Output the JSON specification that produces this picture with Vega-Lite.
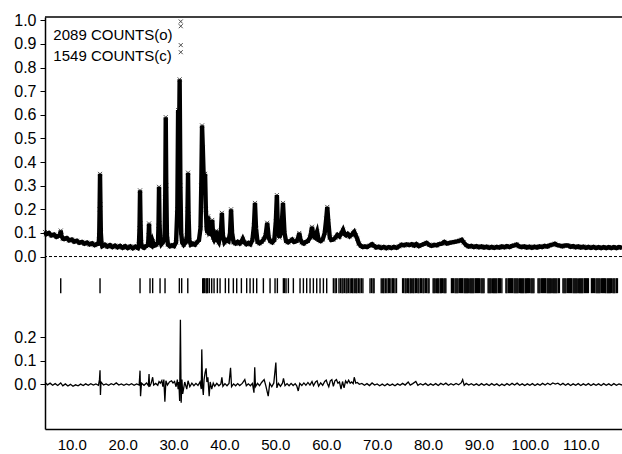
{
"$schema":"https://vega.github.io/schema/vega-lite/v6.json",
"width":577,"height":412,
"autosize":{"type":"none"},
"padding":{"left":45,"top":17,"right":0,"bottom":25},
"background":"white",
"config":{"view":{"stroke":null},"font":"Liberation Sans","axis":{"labelFont":"Liberation Sans","labelFontSize":16,"labelColor":"black","domainColor":"black","tickColor":"black","grid":false,"labelOverlap":false,"labelFlush":false}},
"datasets":{
"obs":[
{"x":4.75,"o":0.104,"c":0.100},{"x":5.0,"o":0.094,"c":0.098},{"x":5.5,"o":0.100,"c":0.095},{"x":6.0,"o":0.089,"c":0.092},{"x":6.5,"o":0.093,"c":0.089},{"x":7.0,"o":0.083,"c":0.086},{"x":7.5,"o":0.088,"c":0.084},{"x":7.75,"o":0.095,"c":0.090},{"x":7.84,"o":0.110,"c":0.104},{"x":7.95,"o":0.090,"c":0.088},{"x":8.25,"o":0.076,"c":0.079},{"x":8.5,"o":0.074,"c":0.077},{"x":9.0,"o":0.078,"c":0.074},{"x":9.5,"o":0.068,"c":0.071},{"x":10.0,"o":0.072,"c":0.068},{"x":10.5,"o":0.063,"c":0.066},{"x":11.0,"o":0.067,"c":0.064},{"x":11.5,"o":0.058,"c":0.062},{"x":12.0,"o":0.062,"c":0.060},{"x":12.5,"o":0.054,"c":0.058},{"x":13.0,"o":0.059,"c":0.056},{"x":13.5,"o":0.051,"c":0.054},{"x":14.0,"o":0.056,"c":0.053},{"x":14.5,"o":0.048,"c":0.051},{"x":15.0,"o":0.053,"c":0.050},{"x":15.3,"o":0.055,"c":0.052},{"x":15.4,"o":0.090,"c":0.080},{"x":15.48,"o":0.200,"c":0.170},{"x":15.56,"o":0.350,"c":0.290},{"x":15.64,"o":0.220,"c":0.200},{"x":15.72,"o":0.100,"c":0.090},{"x":15.85,"o":0.055,"c":0.052},{"x":16.0,"o":0.044,"c":0.048},{"x":16.5,"o":0.050,"c":0.047},{"x":17.0,"o":0.042,"c":0.046},{"x":17.5,"o":0.048,"c":0.045},{"x":18.0,"o":0.040,"c":0.044},{"x":18.5,"o":0.046,"c":0.043},{"x":19.0,"o":0.039,"c":0.042},{"x":19.5,"o":0.045,"c":0.041},{"x":20.0,"o":0.037,"c":0.041},{"x":20.5,"o":0.044,"c":0.040},{"x":21.0,"o":0.036,"c":0.040},{"x":21.5,"o":0.043,"c":0.039},{"x":22.0,"o":0.035,"c":0.039},{"x":22.5,"o":0.042,"c":0.039},{"x":23.0,"o":0.036,"c":0.040},{"x":23.2,"o":0.050,"c":0.048},{"x":23.32,"o":0.120,"c":0.100},{"x":23.42,"o":0.280,"c":0.220},{"x":23.52,"o":0.140,"c":0.150},{"x":23.62,"o":0.060,"c":0.055},{"x":23.8,"o":0.042,"c":0.042},{"x":24.2,"o":0.037,"c":0.040},{"x":24.6,"o":0.044,"c":0.041},{"x":25.0,"o":0.050,"c":0.048},{"x":25.1,"o":0.090,"c":0.080},{"x":25.19,"o":0.140,"c":0.100},{"x":25.28,"o":0.080,"c":0.075},{"x":25.4,"o":0.050,"c":0.050},{"x":25.7,"o":0.045,"c":0.044},{"x":25.9,"o":0.065,"c":0.055},{"x":26.2,"o":0.046,"c":0.046},{"x":26.6,"o":0.050,"c":0.048},{"x":26.95,"o":0.060,"c":0.060},{"x":27.05,"o":0.130,"c":0.120},{"x":27.15,"o":0.295,"c":0.280},{"x":27.25,"o":0.140,"c":0.135},{"x":27.38,"o":0.070,"c":0.065},{"x":27.6,"o":0.052,"c":0.052},{"x":27.9,"o":0.060,"c":0.056},{"x":28.25,"o":0.080,"c":0.075},{"x":28.37,"o":0.250,"c":0.240},{"x":28.47,"o":0.590,"c":0.570},{"x":28.57,"o":0.300,"c":0.320},{"x":28.7,"o":0.090,"c":0.085},{"x":28.9,"o":0.050,"c":0.052},{"x":29.3,"o":0.043,"c":0.046},{"x":29.7,"o":0.048,"c":0.047},{"x":30.1,"o":0.044,"c":0.048},{"x":30.5,"o":0.060,"c":0.058},{"x":30.75,"o":0.200,"c":0.190},{"x":30.9,"o":0.620,"c":0.600},{"x":31.05,"o":0.400,"c":0.410},{"x":31.2,"o":0.750,"c":0.700},{"x":31.35,"o":0.300,"c":0.290},{"x":31.5,"o":0.100,"c":0.110},{"x":31.7,"o":0.060,"c":0.065},{"x":32.0,"o":0.050,"c":0.055},{"x":32.4,"o":0.060,"c":0.060},{"x":32.65,"o":0.090,"c":0.085},{"x":32.75,"o":0.200,"c":0.190},{"x":32.85,"o":0.355,"c":0.330},{"x":32.95,"o":0.180,"c":0.175},{"x":33.1,"o":0.070,"c":0.070},{"x":33.4,"o":0.050,"c":0.054},{"x":33.8,"o":0.055,"c":0.055},{"x":34.2,"o":0.050,"c":0.056},{"x":34.6,"o":0.060,"c":0.060},{"x":35.0,"o":0.070,"c":0.068},{"x":35.3,"o":0.120,"c":0.115},{"x":35.45,"o":0.300,"c":0.300},{"x":35.6,"o":0.555,"c":0.500},{"x":35.75,"o":0.460,"c":0.440},{"x":35.9,"o":0.350,"c":0.350},{"x":36.05,"o":0.300,"c":0.290},{"x":36.2,"o":0.350,"c":0.300},{"x":36.35,"o":0.200,"c":0.190},{"x":36.5,"o":0.120,"c":0.120},{"x":36.65,"o":0.100,"c":0.100},{"x":36.8,"o":0.170,"c":0.150},{"x":37.0,"o":0.090,"c":0.095},{"x":37.2,"o":0.100,"c":0.100},{"x":37.45,"o":0.130,"c":0.120},{"x":37.6,"o":0.155,"c":0.140},{"x":37.8,"o":0.080,"c":0.085},{"x":38.0,"o":0.070,"c":0.072},{"x":38.25,"o":0.080,"c":0.078},{"x":38.4,"o":0.110,"c":0.100},{"x":38.6,"o":0.070,"c":0.070},{"x":38.9,"o":0.060,"c":0.064},{"x":39.3,"o":0.100,"c":0.095},{"x":39.5,"o":0.185,"c":0.170},{"x":39.7,"o":0.090,"c":0.090},{"x":40.0,"o":0.060,"c":0.064},{"x":40.4,"o":0.070,"c":0.068},{"x":40.8,"o":0.065,"c":0.066},{"x":41.1,"o":0.100,"c":0.095},{"x":41.3,"o":0.200,"c":0.180},{"x":41.5,"o":0.100,"c":0.100},{"x":41.8,"o":0.060,"c":0.064},{"x":42.2,"o":0.055,"c":0.060},{"x":42.6,"o":0.062,"c":0.060},{"x":43.0,"o":0.055,"c":0.060},{"x":43.3,"o":0.062,"c":0.062},{"x":43.6,"o":0.075,"c":0.072},{"x":43.9,"o":0.060,"c":0.064},{"x":44.3,"o":0.052,"c":0.058},{"x":44.7,"o":0.058,"c":0.058},{"x":45.1,"o":0.052,"c":0.058},{"x":45.5,"o":0.070,"c":0.066},{"x":45.8,"o":0.130,"c":0.120},{"x":46.0,"o":0.227,"c":0.200},{"x":46.2,"o":0.120,"c":0.115},{"x":46.5,"o":0.062,"c":0.064},{"x":46.9,"o":0.056,"c":0.060},{"x":47.3,"o":0.062,"c":0.062},{"x":47.7,"o":0.072,"c":0.070},{"x":48.1,"o":0.090,"c":0.088},{"x":48.4,"o":0.143,"c":0.130},{"x":48.7,"o":0.080,"c":0.082},{"x":49.0,"o":0.065,"c":0.066},{"x":49.4,"o":0.060,"c":0.062},{"x":49.8,"o":0.070,"c":0.070},{"x":50.1,"o":0.150,"c":0.140},{"x":50.3,"o":0.260,"c":0.220},{"x":50.5,"o":0.120,"c":0.120},{"x":50.8,"o":0.080,"c":0.082},{"x":51.2,"o":0.110,"c":0.105},{"x":51.5,"o":0.227,"c":0.200},{"x":51.8,"o":0.100,"c":0.100},{"x":52.1,"o":0.065,"c":0.068},{"x":52.5,"o":0.060,"c":0.064},{"x":52.9,"o":0.066,"c":0.066},{"x":53.3,"o":0.072,"c":0.070},{"x":53.7,"o":0.062,"c":0.064},{"x":54.2,"o":0.066,"c":0.066},{"x":54.5,"o":0.080,"c":0.078},{"x":54.7,"o":0.100,"c":0.090},{"x":54.9,"o":0.075,"c":0.075},{"x":55.2,"o":0.060,"c":0.062},{"x":55.6,"o":0.055,"c":0.060},{"x":56.0,"o":0.062,"c":0.062},{"x":56.4,"o":0.066,"c":0.066},{"x":56.8,"o":0.080,"c":0.078},{"x":57.0,"o":0.100,"c":0.095},{"x":57.2,"o":0.126,"c":0.110},{"x":57.5,"o":0.085,"c":0.085},{"x":57.8,"o":0.080,"c":0.080},{"x":58.2,"o":0.105,"c":0.095},{"x":58.5,"o":0.070,"c":0.072},{"x":58.9,"o":0.065,"c":0.068},{"x":59.3,"o":0.072,"c":0.072},{"x":59.7,"o":0.100,"c":0.095},{"x":60.0,"o":0.160,"c":0.150},{"x":60.2,"o":0.210,"c":0.190},{"x":60.4,"o":0.150,"c":0.140},{"x":60.7,"o":0.080,"c":0.082},{"x":61.0,"o":0.070,"c":0.074},{"x":61.4,"o":0.072,"c":0.074},{"x":61.8,"o":0.080,"c":0.080},{"x":62.2,"o":0.092,"c":0.088},{"x":62.6,"o":0.085,"c":0.086},{"x":63.0,"o":0.100,"c":0.096},{"x":63.3,"o":0.113,"c":0.105},{"x":63.6,"o":0.095,"c":0.096},{"x":63.9,"o":0.090,"c":0.092},{"x":64.2,"o":0.096,"c":0.094},{"x":64.6,"o":0.085,"c":0.088},{"x":65.0,"o":0.092,"c":0.092},{"x":65.3,"o":0.100,"c":0.098},{"x":65.5,"o":0.105,"c":0.100},{"x":65.8,"o":0.090,"c":0.090},{"x":66.1,"o":0.075,"c":0.076},{"x":66.4,"o":0.055,"c":0.058},{"x":66.8,"o":0.045,"c":0.048},{"x":67.2,"o":0.040,"c":0.043},{"x":67.6,"o":0.043,"c":0.043},{"x":68.0,"o":0.040,"c":0.044},{"x":68.5,"o":0.046,"c":0.046},{"x":69.0,"o":0.052,"c":0.050},{"x":69.4,"o":0.045,"c":0.046},{"x":69.8,"o":0.038,"c":0.041},{"x":70.3,"o":0.042,"c":0.040},{"x":70.8,"o":0.036,"c":0.039},{"x":71.3,"o":0.041,"c":0.039},{"x":71.8,"o":0.035,"c":0.038},{"x":72.3,"o":0.040,"c":0.038},{"x":72.8,"o":0.036,"c":0.038},{"x":73.3,"o":0.041,"c":0.039},{"x":73.8,"o":0.037,"c":0.040},{"x":74.3,"o":0.043,"c":0.042},{"x":74.8,"o":0.050,"c":0.046},{"x":75.3,"o":0.047,"c":0.048},{"x":75.8,"o":0.052,"c":0.049},{"x":76.3,"o":0.048,"c":0.049},{"x":76.8,"o":0.052,"c":0.050},{"x":77.3,"o":0.046,"c":0.049},{"x":77.7,"o":0.053,"c":0.050},{"x":78.2,"o":0.044,"c":0.048},{"x":78.7,"o":0.049,"c":0.049},{"x":79.2,"o":0.053,"c":0.052},{"x":79.7,"o":0.058,"c":0.055},{"x":80.2,"o":0.050,"c":0.051},{"x":80.7,"o":0.045,"c":0.048},{"x":81.2,"o":0.050,"c":0.049},{"x":81.7,"o":0.047,"c":0.049},{"x":82.2,"o":0.053,"c":0.052},{"x":82.7,"o":0.055,"c":0.055},{"x":83.2,"o":0.062,"c":0.059},{"x":83.7,"o":0.055,"c":0.057},{"x":84.2,"o":0.058,"c":0.058},{"x":84.7,"o":0.060,"c":0.060},{"x":85.2,"o":0.062,"c":0.062},{"x":85.7,"o":0.064,"c":0.064},{"x":86.2,"o":0.067,"c":0.066},{"x":86.6,"o":0.071,"c":0.067},{"x":87.0,"o":0.060,"c":0.060},{"x":87.5,"o":0.048,"c":0.050},{"x":88.0,"o":0.042,"c":0.045},{"x":88.5,"o":0.045,"c":0.044},{"x":89.0,"o":0.040,"c":0.042},{"x":89.5,"o":0.044,"c":0.042},{"x":90.0,"o":0.039,"c":0.041},{"x":90.5,"o":0.043,"c":0.041},{"x":91.0,"o":0.038,"c":0.040},{"x":91.5,"o":0.042,"c":0.040},{"x":92.0,"o":0.037,"c":0.040},{"x":92.5,"o":0.041,"c":0.040},{"x":93.0,"o":0.037,"c":0.039},{"x":93.5,"o":0.041,"c":0.039},{"x":94.0,"o":0.038,"c":0.040},{"x":94.5,"o":0.043,"c":0.041},{"x":95.0,"o":0.039,"c":0.041},{"x":95.5,"o":0.044,"c":0.042},{"x":96.0,"o":0.040,"c":0.043},{"x":96.5,"o":0.045,"c":0.044},{"x":97.0,"o":0.047,"c":0.046},{"x":97.4,"o":0.051,"c":0.048},{"x":97.9,"o":0.043,"c":0.045},{"x":98.4,"o":0.040,"c":0.042},{"x":98.9,"o":0.043,"c":0.041},{"x":99.4,"o":0.038,"c":0.040},{"x":99.9,"o":0.042,"c":0.040},{"x":100.4,"o":0.037,"c":0.040},{"x":100.9,"o":0.042,"c":0.040},{"x":101.4,"o":0.038,"c":0.040},{"x":101.9,"o":0.043,"c":0.041},{"x":102.4,"o":0.040,"c":0.042},{"x":102.9,"o":0.045,"c":0.043},{"x":103.4,"o":0.042,"c":0.044},{"x":103.9,"o":0.047,"c":0.046},{"x":104.4,"o":0.050,"c":0.049},{"x":104.9,"o":0.054,"c":0.051},{"x":105.4,"o":0.048,"c":0.049},{"x":105.9,"o":0.046,"c":0.047},{"x":106.4,"o":0.043,"c":0.045},{"x":106.9,"o":0.047,"c":0.046},{"x":107.5,"o":0.047,"c":0.046},{"x":108.0,"o":0.041,"c":0.043},{"x":108.5,"o":0.044,"c":0.042},{"x":109.0,"o":0.039,"c":0.041},{"x":109.5,"o":0.043,"c":0.041},{"x":110.0,"o":0.038,"c":0.040},{"x":110.5,"o":0.042,"c":0.040},{"x":111.0,"o":0.037,"c":0.039},{"x":111.5,"o":0.041,"c":0.039},{"x":112.0,"o":0.037,"c":0.039},{"x":112.5,"o":0.041,"c":0.039},{"x":113.0,"o":0.036,"c":0.038},{"x":113.5,"o":0.040,"c":0.038},{"x":114.0,"o":0.036,"c":0.038},{"x":114.5,"o":0.040,"c":0.038},{"x":115.0,"o":0.036,"c":0.038},{"x":115.5,"o":0.040,"c":0.038},{"x":116.0,"o":0.036,"c":0.038},{"x":116.5,"o":0.040,"c":0.038},{"x":117.0,"o":0.036,"c":0.038},{"x":117.5,"o":0.040,"c":0.038},{"x":118.1,"o":0.037,"c":0.038}
],
"obsx":[{"x":31.42,"o":0.995},{"x":31.42,"o":0.975},{"x":31.42,"o":0.895},{"x":31.42,"o":0.865}],
"diff":[
{"x":4.75,"d":0.008},{"x":5.25,"d":-0.002},{"x":5.75,"d":0.005},{"x":6.25,"d":-0.004},{"x":6.75,"d":0.003},{"x":7.25,"d":-0.005},{"x":7.84,"d":0.006},{"x":8.25,"d":-0.006},{"x":8.75,"d":0.002},{"x":9.25,"d":-0.007},{"x":9.75,"d":0.0},{"x":10.25,"d":-0.008},{"x":10.75,"d":-0.002},{"x":11.25,"d":-0.006},{"x":11.75,"d":0.001},{"x":12.25,"d":-0.005},{"x":12.75,"d":0.002},{"x":13.25,"d":-0.004},{"x":13.75,"d":0.003},{"x":14.25,"d":-0.003},{"x":14.75,"d":0.002},{"x":15.25,"d":-0.004},{"x":15.45,"d":0.02},{"x":15.56,"d":0.06},{"x":15.64,"d":-0.045},{"x":15.75,"d":0.01},{"x":16.25,"d":-0.003},{"x":16.75,"d":0.002},{"x":17.25,"d":-0.004},{"x":17.75,"d":0.003},{"x":18.25,"d":-0.002},{"x":18.75,"d":0.006},{"x":19.25,"d":-0.003},{"x":19.75,"d":0.002},{"x":20.25,"d":-0.004},{"x":20.75,"d":0.002},{"x":21.25,"d":-0.003},{"x":21.75,"d":0.003},{"x":22.25,"d":-0.004},{"x":22.75,"d":0.002},{"x":23.25,"d":-0.003},{"x":23.42,"d":0.058},{"x":23.52,"d":-0.05},{"x":23.7,"d":0.005},{"x":24.2,"d":-0.004},{"x":24.7,"d":0.006},{"x":25.05,"d":-0.005},{"x":25.19,"d":0.044},{"x":25.3,"d":-0.01},{"x":25.6,"d":0.004},{"x":25.9,"d":0.03},{"x":26.1,"d":-0.003},{"x":26.5,"d":0.004},{"x":26.9,"d":-0.004},{"x":27.15,"d":0.012},{"x":27.4,"d":0.005},{"x":27.7,"d":0.016},{"x":27.9,"d":-0.01},{"x":28.1,"d":0.02},{"x":28.3,"d":-0.074},{"x":28.5,"d":0.015},{"x":28.8,"d":-0.003},{"x":29.2,"d":0.01},{"x":29.6,"d":0.015},{"x":29.9,"d":0.006},{"x":30.2,"d":0.012},{"x":30.5,"d":-0.01},{"x":30.75,"d":0.02},{"x":30.9,"d":-0.02},{"x":31.05,"d":0.01},{"x":31.2,"d":-0.07},{"x":31.35,"d":0.273},{"x":31.5,"d":-0.078},{"x":31.65,"d":0.02},{"x":31.8,"d":-0.04},{"x":32.2,"d":0.01},{"x":32.6,"d":-0.02},{"x":32.85,"d":0.015},{"x":33.2,"d":-0.01},{"x":33.6,"d":0.005},{"x":34.0,"d":-0.006},{"x":34.4,"d":0.004},{"x":34.8,"d":-0.005},{"x":35.2,"d":0.01},{"x":35.45,"d":-0.02},{"x":35.55,"d":0.148},{"x":35.7,"d":-0.01},{"x":35.85,"d":-0.045},{"x":36.0,"d":0.02},{"x":36.2,"d":0.05},{"x":36.4,"d":0.068},{"x":36.55,"d":0.01},{"x":36.75,"d":0.03},{"x":37.0,"d":-0.05},{"x":37.2,"d":0.01},{"x":37.5,"d":-0.02},{"x":37.8,"d":0.005},{"x":38.1,"d":-0.008},{"x":38.5,"d":0.004},{"x":38.9,"d":-0.006},{"x":39.3,"d":0.002},{"x":39.5,"d":0.03},{"x":39.7,"d":-0.008},{"x":40.1,"d":0.003},{"x":40.5,"d":-0.006},{"x":40.9,"d":0.004},{"x":41.2,"d":0.07},{"x":41.4,"d":-0.01},{"x":41.8,"d":0.002},{"x":42.2,"d":-0.006},{"x":42.6,"d":0.003},{"x":43.0,"d":-0.005},{"x":43.5,"d":0.004},{"x":44.0,"d":0.02},{"x":44.3,"d":-0.006},{"x":44.7,"d":0.002},{"x":45.1,"d":-0.006},{"x":45.5,"d":0.004},{"x":45.8,"d":-0.035},{"x":45.95,"d":0.072},{"x":46.1,"d":-0.01},{"x":46.5,"d":0.004},{"x":46.9,"d":-0.006},{"x":47.3,"d":0.008},{"x":47.8,"d":0.02},{"x":48.1,"d":-0.003},{"x":48.6,"d":-0.05},{"x":48.9,"d":0.005},{"x":49.3,"d":-0.01},{"x":49.7,"d":0.006},{"x":50.1,"d":0.092},{"x":50.3,"d":-0.015},{"x":50.6,"d":0.004},{"x":51.0,"d":-0.008},{"x":51.4,"d":0.005},{"x":51.6,"d":0.025},{"x":51.9,"d":-0.006},{"x":52.3,"d":0.003},{"x":52.7,"d":-0.006},{"x":53.1,"d":0.004},{"x":53.5,"d":-0.005},{"x":53.9,"d":0.003},{"x":54.2,"d":-0.006},{"x":54.5,"d":-0.028},{"x":54.8,"d":0.004},{"x":55.2,"d":-0.005},{"x":55.6,"d":0.006},{"x":56.0,"d":-0.004},{"x":56.4,"d":0.008},{"x":56.8,"d":-0.003},{"x":57.2,"d":0.012},{"x":57.5,"d":-0.006},{"x":57.9,"d":0.01},{"x":58.2,"d":0.015},{"x":58.5,"d":-0.008},{"x":58.9,"d":0.006},{"x":59.3,"d":-0.004},{"x":59.7,"d":0.012},{"x":60.0,"d":0.018},{"x":60.2,"d":0.005},{"x":60.5,"d":-0.01},{"x":60.8,"d":0.015},{"x":61.1,"d":0.02},{"x":61.4,"d":-0.008},{"x":61.7,"d":0.015},{"x":62.0,"d":0.02},{"x":62.3,"d":0.005},{"x":62.6,"d":0.01},{"x":62.9,"d":-0.02},{"x":63.2,"d":0.012},{"x":63.5,"d":-0.015},{"x":63.8,"d":0.015},{"x":64.1,"d":0.005},{"x":64.4,"d":0.018},{"x":64.7,"d":0.005},{"x":65.0,"d":0.01},{"x":65.3,"d":0.003},{"x":65.5,"d":0.03},{"x":65.8,"d":0.005},{"x":66.1,"d":0.008},{"x":66.5,"d":0.0},{"x":67.0,"d":0.004},{"x":67.5,"d":-0.004},{"x":68.0,"d":0.003},{"x":68.5,"d":-0.005},{"x":69.0,"d":0.006},{"x":69.5,"d":-0.003},{"x":70.0,"d":0.002},{"x":70.5,"d":-0.006},{"x":71.0,"d":0.001},{"x":71.5,"d":-0.006},{"x":72.0,"d":0.002},{"x":72.5,"d":-0.005},{"x":73.0,"d":0.001},{"x":73.5,"d":-0.006},{"x":74.0,"d":0.002},{"x":74.5,"d":-0.004},{"x":75.0,"d":0.004},{"x":75.5,"d":-0.003},{"x":76.1,"d":0.010},{"x":76.5,"d":-0.003},{"x":77.0,"d":0.003},{"x":77.6,"d":0.012},{"x":78.0,"d":-0.004},{"x":78.5,"d":0.003},{"x":79.0,"d":-0.003},{"x":79.5,"d":0.004},{"x":80.0,"d":-0.005},{"x":80.5,"d":0.002},{"x":81.0,"d":-0.004},{"x":81.5,"d":0.003},{"x":82.0,"d":-0.005},{"x":82.5,"d":0.004},{"x":83.0,"d":-0.002},{"x":83.5,"d":0.005},{"x":84.0,"d":-0.004},{"x":84.5,"d":0.003},{"x":85.0,"d":-0.003},{"x":85.5,"d":0.004},{"x":86.0,"d":-0.002},{"x":86.5,"d":0.006},{"x":86.8,"d":0.020},{"x":87.1,"d":-0.004},{"x":87.5,"d":0.004},{"x":88.0,"d":-0.003},{"x":88.5,"d":0.003},{"x":89.0,"d":-0.004},{"x":89.5,"d":0.002},{"x":90.0,"d":-0.005},{"x":90.5,"d":0.003},{"x":91.0,"d":-0.004},{"x":91.5,"d":0.002},{"x":92.0,"d":-0.005},{"x":92.5,"d":0.003},{"x":93.0,"d":-0.004},{"x":93.5,"d":0.002},{"x":94.0,"d":-0.006},{"x":94.5,"d":0.001},{"x":95.0,"d":-0.005},{"x":95.5,"d":0.003},{"x":96.0,"d":-0.004},{"x":96.5,"d":0.004},{"x":97.0,"d":-0.003},{"x":97.5,"d":0.005},{"x":98.0,"d":-0.004},{"x":98.5,"d":0.002},{"x":99.0,"d":-0.005},{"x":99.5,"d":0.002},{"x":100.0,"d":-0.004},{"x":100.5,"d":0.003},{"x":101.0,"d":-0.005},{"x":101.5,"d":0.002},{"x":102.0,"d":-0.004},{"x":102.5,"d":0.004},{"x":103.0,"d":-0.003},{"x":103.5,"d":0.005},{"x":104.0,"d":-0.002},{"x":104.5,"d":0.006},{"x":105.0,"d":0.001},{"x":105.5,"d":0.005},{"x":106.0,"d":-0.003},{"x":106.5,"d":0.004},{"x":107.0,"d":-0.004},{"x":107.5,"d":0.003},{"x":108.0,"d":-0.005},{"x":108.5,"d":0.002},{"x":109.0,"d":-0.004},{"x":109.5,"d":0.003},{"x":110.0,"d":-0.005},{"x":110.5,"d":0.002},{"x":111.0,"d":-0.004},{"x":111.5,"d":0.003},{"x":112.0,"d":-0.005},{"x":112.5,"d":0.002},{"x":113.0,"d":-0.004},{"x":113.5,"d":0.002},{"x":114.0,"d":-0.005},{"x":114.5,"d":0.003},{"x":115.0,"d":-0.004},{"x":115.5,"d":0.002},{"x":116.0,"d":-0.005},{"x":116.5,"d":0.003},{"x":117.0,"d":-0.004},{"x":117.5,"d":0.002},{"x":118.1,"d":-0.003}
],
"refl":[
{"x":7.84},{"x":15.56},{"x":23.42},{"x":25.38},{"x":25.9},{"x":27.35},{"x":28.33},{"x":31.14},{"x":31.6},{"x":32.8},
{"x":35.73},{"x":35.9},{"x":36.06},{"x":36.38},{"x":36.55},{"x":36.71},{"x":37.04},{"x":37.5},{"x":37.96},{"x":38.61},{"x":39.14},{"x":40.18},{"x":40.84},{"x":41.75},{"x":42.41},{"x":43.33},{"x":44.37},{"x":45.03},{"x":45.68},{"x":46.34},{"x":47.65},{"x":48.96},{"x":49.94},{"x":50.4},{"x":51.58},{"x":51.8},{"x":52.1},{"x":52.56},{"x":53.54},{"x":54.85},{"x":55.51},{"x":56.16},{"x":56.82},{"x":57.47},{"x":58.13},{"x":58.78},{"x":59.44},{"x":60.09},{"x":61.4},{"x":61.73},
{"x":62.0},{"x":62.5},{"x":62.8},{"x":63.1},{"x":63.3},{"x":63.6},{"x":63.9},{"x":64.1},{"x":64.4},{"x":64.7},{"x":65.0},{"x":65.2},{"x":65.5},{"x":65.8},{"x":66.0},{"x":66.3},{"x":66.6},{"x":66.9},{"x":67.2},{"x":68.6},{"x":68.9},{"x":69.2},{"x":69.4},{"x":70.8},{"x":71.1},{"x":71.3},{"x":71.6},{"x":71.9},{"x":72.2},{"x":72.4},{"x":72.7},{"x":73.0},{"x":73.2},{"x":73.5},{"x":73.8},{"x":75.0},{"x":75.2},{"x":75.5},{"x":75.7},{"x":76.0},{"x":76.2},{"x":76.5},{"x":76.7},{"x":77.0},{"x":77.2},{"x":77.5},{"x":77.7},{"x":78.0},{"x":78.2},{"x":78.5},{"x":78.7},{"x":79.0},{"x":79.2},{"x":79.5},{"x":79.7},{"x":80.0},{"x":80.2},{"x":81.0},{"x":81.2},{"x":81.4},{"x":81.7},{"x":81.9},{"x":82.1},{"x":82.4},{"x":82.6},{"x":82.8},{"x":83.1},{"x":83.3},{"x":83.5},{"x":84.6},{"x":84.8},{"x":85.0},{"x":85.3},{"x":85.5},{"x":85.7},{"x":85.9},{"x":86.2},{"x":86.4},{"x":86.6},{"x":86.8},{"x":87.1},{"x":87.3},{"x":87.5},{"x":87.7},{"x":87.9},{"x":88.2},{"x":88.4},{"x":88.6},{"x":88.8},{"x":89.0},{"x":89.3},{"x":89.5},{"x":89.7},{"x":89.9},{"x":90.1},{"x":90.4},{"x":90.6},{"x":90.8},{"x":91.0},{"x":91.8},{"x":92.0},{"x":92.2},{"x":92.4},{"x":92.7},{"x":92.9},{"x":93.1},{"x":93.3},{"x":93.5},{"x":93.8},{"x":94.0},{"x":94.2},{"x":94.5},{"x":95.3},{"x":95.5},{"x":95.8},{"x":96.0},{"x":96.2},{"x":96.4},{"x":96.6},{"x":96.9},{"x":97.1},{"x":97.3},{"x":97.5},{"x":97.7},{"x":98.0},{"x":98.2},{"x":98.4},{"x":98.6},{"x":98.8},{"x":99.1},{"x":99.3},{"x":99.5},{"x":99.7},{"x":99.9},{"x":100.2},{"x":100.4},{"x":100.6},{"x":100.8},{"x":101.6},{"x":101.8},{"x":102.0},{"x":102.3},{"x":102.5},{"x":102.7},{"x":102.9},{"x":103.1},{"x":103.4},{"x":103.6},{"x":103.8},{"x":104.0},{"x":104.2},{"x":104.5},{"x":104.7},{"x":104.9},{"x":105.1},{"x":105.3},{"x":105.6},{"x":105.8},{"x":106.5},{"x":106.7},{"x":106.9},{"x":107.1},{"x":107.4},{"x":107.6},{"x":107.8},{"x":108.0},{"x":108.2},{"x":108.5},{"x":108.7},{"x":108.9},{"x":109.1},{"x":109.3},{"x":109.6},{"x":109.8},{"x":110.0},{"x":110.2},{"x":110.4},{"x":110.7},{"x":110.9},{"x":111.1},{"x":111.3},{"x":111.5},{"x":112.1},{"x":112.3},{"x":112.5},{"x":112.7},{"x":113.0},{"x":113.2},{"x":113.4},{"x":113.6},{"x":113.8},{"x":114.1},{"x":114.3},{"x":114.5},{"x":114.7},{"x":114.9},{"x":115.2},{"x":115.4},{"x":115.6},{"x":115.8},{"x":116.0},{"x":116.3},{"x":116.5},{"x":116.7},{"x":117.0},{"x":117.2}
]
},
"layer":[
{"layer":[
{"data":{"name":"obs"},"mark":{"type":"line","color":"black","strokeWidth":4.4},
 "encoding":{
  "x":{"field":"x","type":"quantitative","title":null,"scale":{"domain":[4.75,118.1],"nice":false,"zero":false},
       "axis":{"values":[10,20,30,40,50,60,70,80,90,100,110],"format":".1f","ticks":false,"labelPadding":8,"domainWidth":1.5,"labelFontSize":15,"labelOverlap":false}},
  "y":{"field":"o","type":"quantitative","title":null,"scale":{"domain":[-0.730,1.014],"nice":false,"zero":false},
       "axis":{"values":[0,0.1,0.2,0.3,0.4,0.5,0.6,0.7,0.8,0.9,1.0],"format":".1f",
               "tickSize":5,"labelPadding":4,"domainWidth":1.5,"labelFontSize":16,"labelOverlap":false,"labelFlush":false,"labelSeparation":0}}}},
{"data":{"name":"obs"},"mark":{"type":"point","shape":"M-1,-1L1,1M-1,1L1,-1","filled":false,"color":"black","strokeWidth":1,"size":16},
 "encoding":{"x":{"field":"x","type":"quantitative","title":null,"scale":{"domain":[4.75,118.1],"nice":false,"zero":false}},
  "y":{"field":"o","type":"quantitative","title":null,"scale":{"domain":[-0.730,1.014],"nice":false,"zero":false}}}},
{"data":{"name":"obsx"},"mark":{"type":"point","shape":"M-1,-1L1,1M-1,1L1,-1","filled":false,"color":"black","strokeWidth":1,"size":16},
 "encoding":{"x":{"field":"x","type":"quantitative","title":null,"scale":{"domain":[4.75,118.1],"nice":false,"zero":false}},
  "y":{"field":"o","type":"quantitative","title":null,"scale":{"domain":[-0.730,1.014],"nice":false,"zero":false}}}},
{"data":{"name":"obs"},"mark":{"type":"line","color":"black","strokeWidth":1},
 "encoding":{"x":{"field":"x","type":"quantitative","title":null,"scale":{"domain":[4.75,118.1],"nice":false,"zero":false}},
  "y":{"field":"c","type":"quantitative","title":null,"scale":{"domain":[-0.730,1.014],"nice":false,"zero":false}}}},
{"data":{"values":[{}]},"mark":{"type":"rule","color":"black","strokeWidth":1,"strokeDash":[3,2]},
 "encoding":{"y":{"datum":0,"type":"quantitative","scale":{"domain":[-0.730,1.014],"nice":false,"zero":false}}}},
{"data":{"values":[{}]},"mark":{"type":"rule","color":"black","strokeWidth":1.5},
 "encoding":{"y":{"datum":1.014,"type":"quantitative","scale":{"domain":[-0.730,1.014],"nice":false,"zero":false}}}},
{"data":{"name":"refl"},"mark":{"type":"rule","color":"black","strokeWidth":1.4},
 "encoding":{"x":{"field":"x","type":"quantitative","title":null,"scale":{"domain":[4.75,118.1],"nice":false,"zero":false}},
  "y":{"datum":-0.0915,"type":"quantitative","scale":{"domain":[-0.730,1.014],"nice":false,"zero":false}},
  "y2":{"datum":-0.155}}},
{"data":{"values":[{}]},"mark":{"type":"text","align":"left","baseline":"middle","fontSize":15,"font":"Liberation Sans","color":"black"},
 "encoding":{"x":{"datum":6.39,"type":"quantitative","scale":{"domain":[4.75,118.1],"nice":false,"zero":false}},
  "y":{"datum":0.939,"type":"quantitative","scale":{"domain":[-0.730,1.014],"nice":false,"zero":false}},
  "text":{"value":"2089 COUNTS(o)"}}},
{"data":{"values":[{}]},"mark":{"type":"text","align":"left","baseline":"middle","fontSize":15,"font":"Liberation Sans","color":"black"},
 "encoding":{"x":{"datum":6.39,"type":"quantitative","scale":{"domain":[4.75,118.1],"nice":false,"zero":false}},
  "y":{"datum":0.848,"type":"quantitative","scale":{"domain":[-0.730,1.014],"nice":false,"zero":false}},
  "text":{"value":"1549 COUNTS(c)"}}}
]},
{"data":{"name":"diff"},"mark":{"type":"line","color":"black","strokeWidth":1.3},
 "encoding":{"x":{"field":"x","type":"quantitative","title":null,"scale":{"domain":[4.75,118.1],"nice":false,"zero":false}},
  "y":{"field":"d","type":"quantitative","title":null,"scale":{"domain":[-0.189,1.555],"nice":false,"zero":false},
       "axis":{"orient":"left","values":[0,0.1,0.2],"format":".1f","tickSize":5,"labelPadding":4,"domain":false,"labelFontSize":16,"labelOverlap":false,"labelFlush":false,"offset":0}}}}
],
"resolve":{"scale":{"y":"independent"},"axis":{"y":"independent"}}
}
